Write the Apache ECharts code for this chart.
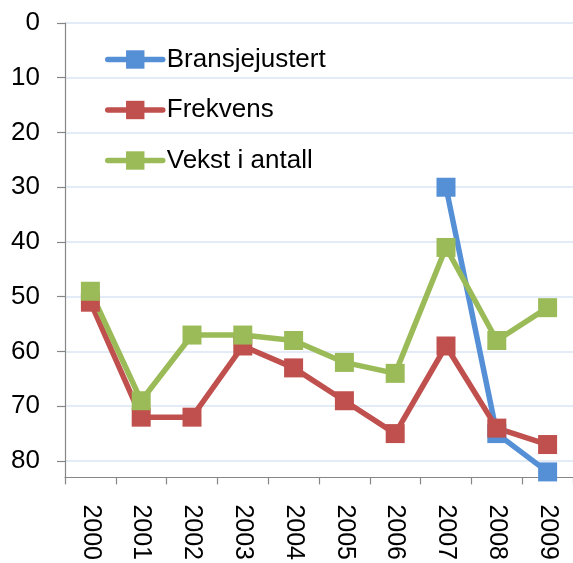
<!DOCTYPE html>
<html>
<head>
<meta charset="utf-8">
<script src="https://cdn.jsdelivr.net/npm/echarts@6/dist/echarts.min.js"></script>
<style>
html,body{margin:0;padding:0;background:#fff;}
#c{width:573px;height:563px;}
</style>
</head>
<body>
<div id="c"></div>
<script>
const years = ['2000','2001','2002','2003','2004','2005','2006','2007','2008','2009'];
const yTicks = [0,10,20,30,40,50,60,70,80];
const bransjejustert = [null,null,null,null,null,null,null,30,75,82];
const frekvens = [51,72,72,59,63,69,75,59,74,77];
const vekst = [49,69,57,57,58,62,64,41,58,52];
const seriesNames = ['Bransjejustert','Frekvens','Vekst i antall'];
const colors = ['#5590D6','#C0504D','#9BBB59'];

const font = 'Liberation Sans, Arial, sans-serif';
function mk(name, data, color){
  return {
    name: name, type: 'line', data: data, color: color,
    symbol: 'rect', symbolSize: 19,
    lineStyle: {width: 5.5, color: color, cap: 'round', join: 'round'},
    itemStyle: {color: color},
    connectNulls: false, animation: false
  };
}
const chart = echarts.init(document.getElementById('c'), null, {renderer:'canvas'});
chart.setOption({
  animation: false,
  grid: {left: 65, top: 23, right: -8, bottom: 82, containLabel: false},
  legend: {
    orient: 'vertical', left: 105, top: 46.5, padding: 0,
    itemWidth: 55, itemHeight: 23, itemGap: 24.5,
    data: seriesNames,
    lineStyle: {width: 5.5, cap: 'round'},
    textStyle: {fontSize: 26, color: '#000', fontFamily: font, padding: [0,0,0,-1]}
  },
  xAxis: {
    type: 'category', data: years, boundaryGap: true, position: 'bottom',
    axisLine: {onZero: false, lineStyle: {color: '#868686', width: 1.2}},
    axisTick: {show: true, length: 7, lineStyle: {color: '#868686', width: 1.2}},
    axisLabel: {rotate: -90, margin: 27, fontSize: 25, color: '#000', fontFamily: font, interval: 0},
    splitLine: {show: false}
  },
  yAxis: {
    type: 'value', inverse: true, min: 0, max: 83, interval: 10,
    axisLine: {show: true, onZero: false, lineStyle: {color: '#868686', width: 1.2}},
    axisTick: {show: true, length: 8, customValues: yTicks, lineStyle: {color: '#868686', width: 1.2}},
    axisLabel: {margin: 25, fontSize: 26, color: '#000', fontFamily: font, customValues: yTicks},
    splitLine: {show: true, lineStyle: {color: '#D9E4F3', width: 1.5}}
  },
  series: [
    mk(seriesNames[0], bransjejustert, colors[0]),
    mk(seriesNames[1], frekvens, colors[1]),
    mk(seriesNames[2], vekst, colors[2])
  ]
});
</script>
</body>
</html>
